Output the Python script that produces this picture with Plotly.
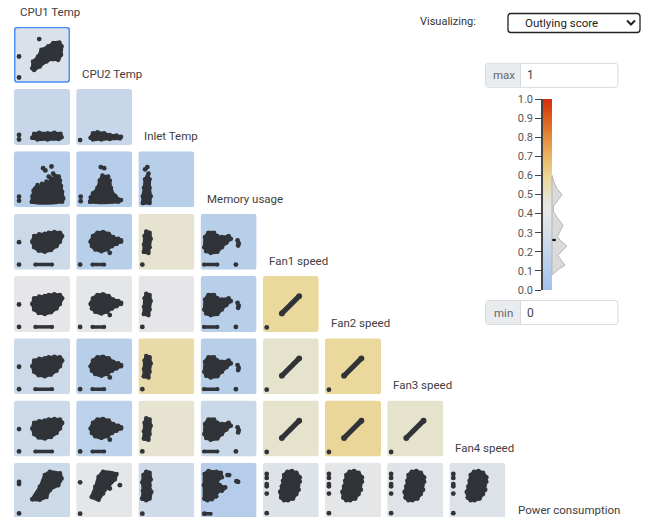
import plotly.graph_objects as go
from plotly.colors import sample_colorscale

W, H = 649, 517

VARIABLES = ["CPU1 Temp", "CPU2 Temp", "Inlet Temp", "Memory usage", "Fan1 speed",
             "Fan2 speed", "Fan3 speed", "Fan4 speed", "Power consumption"]

# Outlying score of every pair: row r plots VARIABLES[r + 1] against VARIABLES[c]
SCORES = [
    [0.33],
    [0.22, 0.22],
    [0.13, 0.13, 0.14],
    [0.24, 0.14, 0.48, 0.14],
    [0.41, 0.40, 0.41, 0.14, 0.58],
    [0.24, 0.14, 0.56, 0.14, 0.49, 0.58],
    [0.24, 0.16, 0.48, 0.23, 0.49, 0.59, 0.49],
    [0.24, 0.40, 0.26, 0.12, 0.36, 0.40, 0.37, 0.35],
]
SELECTED_CELL = (0, 0)
SELECTED_SCORE = 0.262

SCORE_COLORSCALE = [
    [0.00, "#a3c2ee"], [0.15, "#bad0ea"], [0.30, "#d6dfe8"], [0.42, "#e7e7e8"],
    [0.50, "#e6e3c9"], [0.60, "#ebd592"], [0.70, "#e8b263"], [0.80, "#e48c3c"],
    [0.90, "#dd5c1d"], [1.00, "#d52c0f"],
]

# Distribution of scores drawn beside the colour bar (score, width in px)
DENSITY_SCORE = [0.60, 0.57, 0.53, 0.50, 0.47, 0.44, 0.41, 0.38, 0.34, 0.31,
                 0.28, 0.26, 0.23, 0.21, 0.18, 0.15, 0.13, 0.11, 0.08]
DENSITY_WIDTH = [0, 1.5, 5, 10, 6, 1.5, 1.5, 5, 11, 8, 5.5, 8, 15, 11, 6, 10, 13, 7, 0]

# Point clouds in normalised pair coordinates: (outline x, outline y)
BLOB_CPU2_CPU1 = ([.33, .34, .43, .49, .61, .70, .81, .85, .84, .79, .70, .58, .46, .36],
                  [.26, .38, .47, .59, .65, .71, .72, .65, .50, .41, .42, .38, .29, .23])
BLOB_INLET_CPU1 = ([.33, .36, .45, .60, .72, .83, .85, .80, .60, .42],
                   [.13, .20, .22, .21, .22, .20, .14, .11, .10, .10])
BLOB_INLET_CPU2 = ([.26, .30, .38, .50, .60, .72, .80, .78, .60, .45, .30],
                   [.13, .21, .23, .21, .18, .17, .15, .12, .11, .10, .10])
BLOB_MEM_CPU1 = ([.32, .86, .88, .86, .84, .82, .80, .74, .70, .66, .62, .58, .54, .50,
                  .46, .42, .38, .35, .33],
                 [.10, .10, .16, .28, .38, .48, .55, .56, .50, .52, .44, .46, .40, .42,
                  .36, .40, .34, .30, .20])
BLOB_MEM_CPU2 = ([.25, .75, .80, .70, .62, .60, .52, .47, .42, .38, .30, .26],
                 [.10, .10, .13, .20, .35, .48, .54, .57, .48, .35, .25, .18])
BLOB_MEM_INLET = ([.08, .20, .22, .20, .20, .16, .12, .10, .08],
                  [.08, .08, .20, .35, .50, .55, .50, .35, .20])
BLOB_FAN_CPU1 = ([.33, .36, .45, .55, .62, .72, .82, .86, .82, .76, .66, .55, .44, .36],
                 [.50, .60, .63, .64, .66, .67, .66, .60, .50, .42, .35, .32, .34, .40])
BLOB_FAN_CPU2 = ([.26, .30, .38, .48, .58, .66, .75, .80, .72, .64, .56, .45, .34, .28],
                 [.50, .60, .66, .67, .64, .58, .55, .50, .46, .42, .36, .33, .36, .42])
BLOB_FAN_INLET = ([.10, .18, .20, .22, .20, .14, .11, .10],
                  [.32, .30, .40, .55, .66, .68, .60, .45])
BLOB_FAN_MEM = ([.07, .08, .14, .24, .30, .38, .50, .54, .46, .38, .30, .18, .10],
                [.40, .58, .66, .66, .60, .58, .60, .55, .48, .40, .32, .30, .33])
BLOB_POWER_CPU1 = ([.33, .46, .55, .64, .82, .85, .79, .64, .58, .46],
                   [.35, .57, .78, .84, .81, .72, .60, .51, .39, .34])
BLOB_POWER_CPU2 = ([.28, .34, .40, .48, .72, .69, .57, .48, .40],
                   [.39, .57, .75, .84, .80, .70, .57, .45, .34])
BLOB_POWER_INLET = ([.07, .08, .07, .09, .14, .20, .22, .20, .23, .20, .14],
                    [.36, .50, .65, .78, .84, .82, .70, .60, .48, .36, .33])
BLOB_POWER_MEM = ([.07, .06, .07, .14, .28, .36, .38, .30, .34, .44, .38, .30, .28, .20, .12],
                  [.36, .60, .80, .85, .84, .82, .74, .68, .60, .56, .50, .48, .40, .35, .33])
BLOB_POWER_FAN = ([.33, .31, .34, .36, .38, .44, .52, .60, .66, .66, .63, .64, .60, .54, .45, .38],
                  [.38, .48, .58, .68, .78, .84, .85, .82, .74, .66, .60, .52, .44, .36, .33, .33])

# Fan-vs-fan pairs lie on a straight trend
LINE_FAN_FAN = ([.34, .65], [.33, .64])

# Idle readings along the bottom edge
BAR_FAN_CPU1 = ([.38, .68], [.09, .09])
BAR_FAN_CPU2 = ([.29, .50], [.09, .09])
BAR_FAN_MEM = ([.06, .30], [.09, .09])
BAR_POWER_MEM = ([.06, .18], [.09, .09])

# Isolated readings
PTS_CPU2_CPU1 = ([.45, .09, .09], [.78, .47, .095])
PTS_INLET_CPU1 = ([.09, .09], [.18, .10])
PTS_INLET_CPU2 = ([.07], [.09])
PTS_MEM_CPU1 = ([.52, .56, .67, .62, .70, .09, .09], [.70, .66, .73, .55, .60, .19, .12])
PTS_MEM_CPU2 = ([.44, .50, .57, .08, .08], [.72, .70, .55, .19, .11])
PTS_MEM_INLET = ([.12, .16, .18], [.68, .72, .60])
PTS_FAN_CPU1 = ([.09, .09], [.49, .09])
PTS_FAN_CPU2 = ([.60, .80, .07], [.30, .52, .09])
PTS_FAN_INLET = ([.07], [.09])
PTS_FAN_MEM = ([.66, .68, .67, .63], [.52, .47, .43, .09])
PTS_FAN_FAN = ([.07], [.08])
PTS_POWER_CPU1 = ([.09, .09, .09], [.62, .66, .095])
PTS_POWER_CPU2 = ([.07, .78, .60, .07], [.65, .60, .54, .09])
PTS_POWER_INLET = ([.07], [.09])
PTS_POWER_MEM = ([.48, .51, .64, .67, .07], [.78, .78, .67, .66, .09])
PTS_POWER_FAN = ([.07, .07, .07, .07, .07, .07], [.80, .73, .62, .58, .45, .10])

PAIR_TYPES = {
    "cpu2_cpu1": (BLOB_CPU2_CPU1, None, None, PTS_CPU2_CPU1),
    "inlet_cpu1": (BLOB_INLET_CPU1, None, None, PTS_INLET_CPU1),
    "inlet_cpu2": (BLOB_INLET_CPU2, None, None, PTS_INLET_CPU2),
    "mem_cpu1": (BLOB_MEM_CPU1, None, None, PTS_MEM_CPU1),
    "mem_cpu2": (BLOB_MEM_CPU2, None, None, PTS_MEM_CPU2),
    "mem_inlet": (BLOB_MEM_INLET, None, None, PTS_MEM_INLET),
    "fan_cpu1": (BLOB_FAN_CPU1, None, BAR_FAN_CPU1, PTS_FAN_CPU1),
    "fan_cpu2": (BLOB_FAN_CPU2, None, BAR_FAN_CPU2, PTS_FAN_CPU2),
    "fan_inlet": (BLOB_FAN_INLET, None, None, PTS_FAN_INLET),
    "fan_mem": (BLOB_FAN_MEM, None, BAR_FAN_MEM, PTS_FAN_MEM),
    "fan_fan": (None, LINE_FAN_FAN, None, PTS_FAN_FAN),
    "power_cpu1": (BLOB_POWER_CPU1, None, None, PTS_POWER_CPU1),
    "power_cpu2": (BLOB_POWER_CPU2, None, None, PTS_POWER_CPU2),
    "power_inlet": (BLOB_POWER_INLET, None, None, PTS_POWER_INLET),
    "power_mem": (BLOB_POWER_MEM, None, BAR_POWER_MEM, PTS_POWER_MEM),
    "power_fan": (BLOB_POWER_FAN, None, None, PTS_POWER_FAN),
}

FAN_ROW = ["fan_cpu1", "fan_cpu2", "fan_inlet", "fan_mem", "fan_fan", "fan_fan", "fan_fan"]
CELL_TYPES = [
    ["cpu2_cpu1"],
    ["inlet_cpu1", "inlet_cpu2"],
    ["mem_cpu1", "mem_cpu2", "mem_inlet"],
    FAN_ROW[:4],
    FAN_ROW[:5],
    FAN_ROW[:6],
    FAN_ROW[:7],
    ["power_cpu1", "power_cpu2", "power_inlet", "power_mem",
     "power_fan", "power_fan", "power_fan", "power_fan"],
]

# ---- layout geometry (pixels) ----
CELL = 56
PITCH_X, PITCH_Y = 62.2, 62.28
LEFT, TOP = 14, 26.8
INK = "#303338"
FONT = "Roboto, Noto Sans, sans-serif"


def px(x):
    return x / W


def py(y):
    return 1 - y / H


def round_rect(x0, y0, x1, y1, rx, ry):
    return (f"M{x0 + rx},{y0} L{x1 - rx},{y0} Q{x1},{y0} {x1},{y0 + ry} "
            f"L{x1},{y1 - ry} Q{x1},{y1} {x1 - rx},{y1} L{x0 + rx},{y1} "
            f"Q{x0},{y1} {x0},{y1 - ry} L{x0},{y0 + ry} Q{x0},{y0} {x0 + rx},{y0} Z")


def paper_round_rect(x0, y0, x1, y1, r=3):
    # pixel box -> paper coordinates (y flipped)
    return round_rect(px(x0), py(y1), px(x1), py(y0), r / W, r / H)


def bare_axis(**kw):
    base = dict(showgrid=False, zeroline=False, showticklabels=False, ticks="",
                showline=False, fixedrange=True, automargin=False)
    base.update(kw)
    return base


fig = go.Figure()
layout_axes = {}
shapes = []
annotations = []

n = 0
for r, row in enumerate(CELL_TYPES):
    for c, kind in enumerate(row):
        n += 1
        xa, ya = f"x{n}", f"y{n}"
        x0 = LEFT + c * PITCH_X
        y0 = TOP + r * PITCH_Y
        y1 = y0 + CELL
        ylow = (y1 - H) / CELL if y1 > H else 0
        layout_axes[f"xaxis{n}"] = bare_axis(domain=[px(x0), px(x0 + CELL)], range=[0, 1],
                                             anchor=ya)
        layout_axes[f"yaxis{n}"] = bare_axis(domain=[max(0, py(y1)), py(y0)], range=[ylow, 1],
                                             anchor=xa)
        score = SCORES[r][c]
        bg = sample_colorscale(SCORE_COLORSCALE, [score])[0]
        rr = 3 / CELL
        shapes.append(dict(type="path", xref=xa, yref=ya, layer="below",
                           path=round_rect(0, 0, 1, 1, rr, rr),
                           fillcolor=bg, line=dict(width=0)))
        if (r, c) == SELECTED_CELL:
            shapes.append(dict(type="path", xref=xa, yref=ya, layer="above",
                               path=round_rect(0.012, 0.012, 0.988, 0.988, rr, rr),
                               fillcolor="rgba(0,0,0,0)",
                               line=dict(color="#4a8ff5", width=1.6)))

        blob, line, bar, pts = PAIR_TYPES[kind]
        if blob is not None:
            # dense cloud: filled outline with a dot on every outline vertex
            fig.add_trace(go.Scatter(x=blob[0] + [blob[0][0]], y=blob[1] + [blob[1][0]],
                                     xaxis=xa, yaxis=ya, mode="lines+markers", fill="toself",
                                     fillcolor=INK,
                                     line=dict(color=INK, width=2.6, shape="spline",
                                               smoothing=0.8),
                                     marker=dict(color=INK, size=4.6),
                                     hoverinfo="skip", showlegend=False))
        for seg in (line, bar):
            if seg is not None:
                wide = 5.2 if seg is line else 3.5
                fig.add_trace(go.Scatter(x=seg[0], y=seg[1], xaxis=xa, yaxis=ya,
                                         mode="lines+markers",
                                         line=dict(color=INK, width=wide),
                                         marker=dict(color=INK, size=wide + 0.6),
                                         hoverinfo="skip", showlegend=False))
        if pts is not None:
            fig.add_trace(go.Scatter(x=pts[0], y=pts[1], xaxis=xa, yaxis=ya,
                                     mode="markers", marker=dict(color=INK, size=4.8),
                                     hoverinfo="skip", showlegend=False))

# variable names along the diagonal
for k, name in enumerate(VARIABLES):
    annotations.append(dict(text=name, xref="paper", yref="paper",
                            x=px(LEFT + k * PITCH_X + 4), y=py(TOP + k * PITCH_Y - 15),
                            xanchor="left", yanchor="middle", showarrow=False,
                            font=dict(size=11.5, color="#404040")))

# ---- colour bar with score distribution ----
n += 1
cxa, cya = f"x{n}", f"y{n}"
BAR_LEFT, BAR_TOP, BAR_BOTTOM = 543, 99, 290
BAR_W = 9
layout_axes[f"xaxis{n}"] = bare_axis(domain=[px(BAR_LEFT), px(BAR_LEFT + 57)], range=[0, 57],
                                     anchor=cya)
layout_axes[f"yaxis{n}"] = bare_axis(domain=[py(BAR_BOTTOM), py(BAR_TOP)], range=[0, 1],
                                     anchor=cxa, showticklabels=True,
                                     tickvals=[i / 10 for i in range(11)], tickformat=".1f",
                                     ticks="outside", ticklen=6, tickcolor="#444",
                                     tickwidth=1, showline=True, linecolor="#444",
                                     linewidth=1.5, tickfont=dict(size=11, color="#555"))
steps = 200
fig.add_trace(go.Heatmap(z=[[(i + 0.5) / steps] for i in range(steps)],
                         x=[0, BAR_W], y=[i / steps for i in range(steps + 1)],
                         xaxis=cxa, yaxis=cya, colorscale=SCORE_COLORSCALE,
                         zmin=0, zmax=1, showscale=False, hoverinfo="skip"))
fig.add_trace(go.Scatter(x=[BAR_W + w for w in DENSITY_WIDTH] + [BAR_W, BAR_W],
                         y=DENSITY_SCORE + [DENSITY_SCORE[-1], DENSITY_SCORE[0]],
                         xaxis=cxa, yaxis=cya, mode="lines", fill="toself",
                         fillcolor="rgba(205,205,205,0.75)",
                         line=dict(color="rgba(175,175,175,0.9)", width=1),
                         hoverinfo="skip", showlegend=False))
fig.add_trace(go.Scatter(x=[BAR_W + 0.3, BAR_W + 3.8], y=[SELECTED_SCORE, SELECTED_SCORE],
                         xaxis=cxa, yaxis=cya, mode="lines",
                         line=dict(color="#111", width=2.2),
                         hoverinfo="skip", showlegend=False))

# ---- controls ----
annotations.append(dict(text="Visualizing:", xref="paper", yref="paper", x=px(418), y=py(21.5),
                        xanchor="left", yanchor="middle", showarrow=False,
                        font=dict(size=11, color="#333")))
shapes.append(dict(type="path", xref="paper", yref="paper",
                   path=paper_round_rect(508, 13.5, 640, 32.5, 3),
                   fillcolor="white", line=dict(color="#222", width=1.3)))
annotations.append(dict(text="Outlying score", xref="paper", yref="paper", x=px(561), y=py(23.5),
                        xanchor="center", yanchor="middle", showarrow=False,
                        font=dict(size=11.5, color="#222")))
shapes.append(dict(type="path", xref="paper", yref="paper",
                   path=f"M{px(627)},{py(20.5)} L{px(631)},{py(24.5)} L{px(635)},{py(20.5)}",
                   line=dict(color="#222", width=2)))

for label, value, top in (("max", "1", 63.3), ("min", "0", 300.5)):
    bottom = top + 24
    shapes.append(dict(type="path", xref="paper", yref="paper",
                       path=paper_round_rect(485.5, top, 618, bottom, 3),
                       fillcolor="white", line=dict(color="#d8dadd", width=1)))
    shapes.append(dict(type="path", xref="paper", yref="paper",
                       path=(f"M{px(488)},{py(top + 0.5)} L{px(520.5)},{py(top + 0.5)} "
                             f"L{px(520.5)},{py(bottom - 0.5)} L{px(488)},{py(bottom - 0.5)} "
                             f"Q{px(486)},{py(bottom - 0.5)} {px(486)},{py(bottom - 3)} "
                             f"L{px(486)},{py(top + 3)} Q{px(486)},{py(top + 0.5)} "
                             f"{px(488)},{py(top + 0.5)} Z"),
                       fillcolor="#e9ecef", line=dict(width=0)))
    shapes.append(dict(type="line", xref="paper", yref="paper",
                       x0=px(520.5), x1=px(520.5), y0=py(top), y1=py(bottom),
                       line=dict(color="#d8dadd", width=1)))
    annotations.append(dict(text=label, xref="paper", yref="paper",
                            x=px(503.5), y=py((top + bottom) / 2),
                            xanchor="center", yanchor="middle", showarrow=False,
                            font=dict(size=11.5, color="#666")))
    annotations.append(dict(text=value, xref="paper", yref="paper",
                            x=px(524.5), y=py((top + bottom) / 2),
                            xanchor="left", yanchor="middle", showarrow=False,
                            font=dict(size=12, color="#444")))

fig.update_layout(template="none", width=W, height=H, autosize=False,
                  margin=dict(l=0, r=0, t=0, b=0, pad=0),
                  paper_bgcolor="white", plot_bgcolor="rgba(0,0,0,0)",
                  font=dict(family=FONT),
                  showlegend=False, shapes=shapes, annotations=annotations,
                  **layout_axes)

fig.write_html("out.html", config={"displayModeBar": False})
